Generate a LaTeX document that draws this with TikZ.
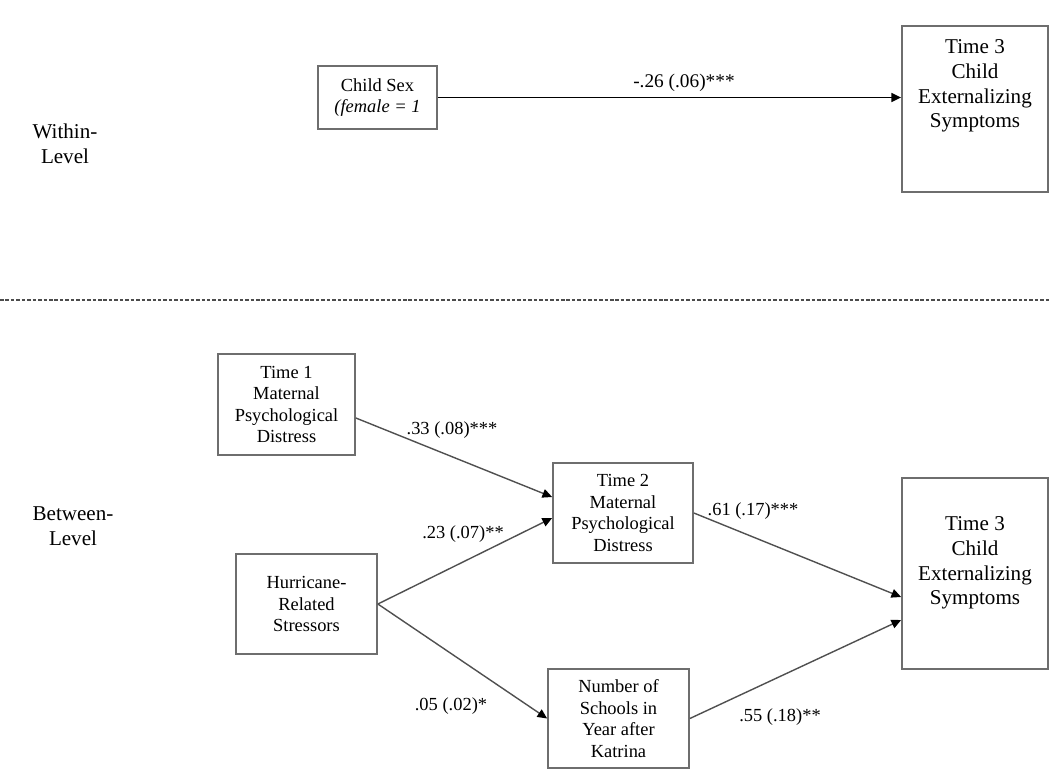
\documentclass[tikz,border=0pt]{standalone}
\usepackage{fontspec}
\setmainfont{Liberation Serif}
\usetikzlibrary{arrows.meta}

\definecolor{boxgray}{HTML}{6E6E6E}
\definecolor{linegray}{HTML}{505050}

% text of a tall outcome box: height, top padding, lines
\newcommand{\outlines}[3]{\parbox[c][#1][t]{2.9cm}{\centering\vspace*{#2}#3}}

\begin{document}
\begin{tikzpicture}[x=0.02cm, y=-0.02cm,
  box/.style={draw=boxgray, line width=1pt, align=center, inner sep=0pt,
    font=\fontsize{10.5pt}{12.3pt}\selectfont},
  outbox/.style={draw=boxgray, line width=1pt, inner sep=0pt, minimum width=2.92cm,
    font=\fontsize{12pt}{14pt}\selectfont},
  link/.style={draw=linegray, line width=0.8pt, -{Triangle[black, length=5.5pt, width=5pt]}},
  coef/.style={font=\fontsize{10.5pt}{12pt}\selectfont},
  level/.style={align=center, font=\fontsize{12pt}{14pt}\selectfont}]
  \useasboundingbox (0,0) rectangle (1050,770);

  % within level
  \node[level] (within) at (65,144) {Within-\\Level};
  \node[box, minimum width=2.38cm, minimum height=1.26cm] (sex) at (377.5,97.5) {Child Sex\\\textit{(female = 1}};
  \node[outbox] (outTop) at (975,109) {\outlines{3.32cm}{0.28cm}{Time 3\\Child\\Externalizing\\Symptoms}};
  \draw[line width=1.1pt, -{Triangle[length=5.5pt, width=5pt]}] (sex.east) -- (sex.east -| outTop.west);
  \node[coef, font=\fontsize{11pt}{12pt}\selectfont] (cSex) at (684,83) {-.26 (.06)***};

  \draw[draw=black!70, line width=1.1pt, dash pattern=on 2pt off 1.1pt] (0,300) -- (1050,300);

  % between level
  \node[level] (between) at (73,526) {Between-\\Level};
  \node[box, minimum width=2.74cm, minimum height=2.02cm] (t1) at (286.5,404.5) {Time 1\\Maternal\\Psychological\\Distress};
  \node[box, minimum width=2.82cm, minimum height=2cm] (storm) at (306.5,604) {Hurricane-\\Related\\Stressors};
  \node[box, minimum width=2.8cm, minimum height=2cm] (t2) at (623,513) {Time 2\\Maternal\\Psychological\\Distress};
  \node[box, minimum width=2.82cm, minimum height=1.98cm] (schools) at (618.5,718.5) {Number of\\Schools in\\Year after\\Katrina};
  \node[outbox] (outBot) at (975,573.5) {\outlines{3.82cm}{0.78cm}{Time 3\\Child\\Externalizing\\Symptoms}};

  \draw[link] ([yshift=-0.27cm]t1.east) -- ([yshift=0.32cm]t2.west);
  \draw[link] (storm.east) -- ([yshift=-0.1cm]t2.west);
  \draw[link] (storm.east) -- (schools.west);
  \draw[link] (t2.east) -- ([yshift=-0.47cm]outBot.west);
  \draw[link] (schools.east) -- ([yshift=-0.93cm]outBot.west);

  \node[coef] (c1) at (452,430) {.33 (.08)***};
  \node[coef] (c2) at (463,534) {.23 (.07)**};
  \node[coef] (c3) at (451,706) {.05 (.02)*};
  \node[coef] (c4) at (753,511) {.61 (.17)***};
  \node[coef] (c5) at (780,717) {.55 (.18)**};
\end{tikzpicture}
\end{document}
